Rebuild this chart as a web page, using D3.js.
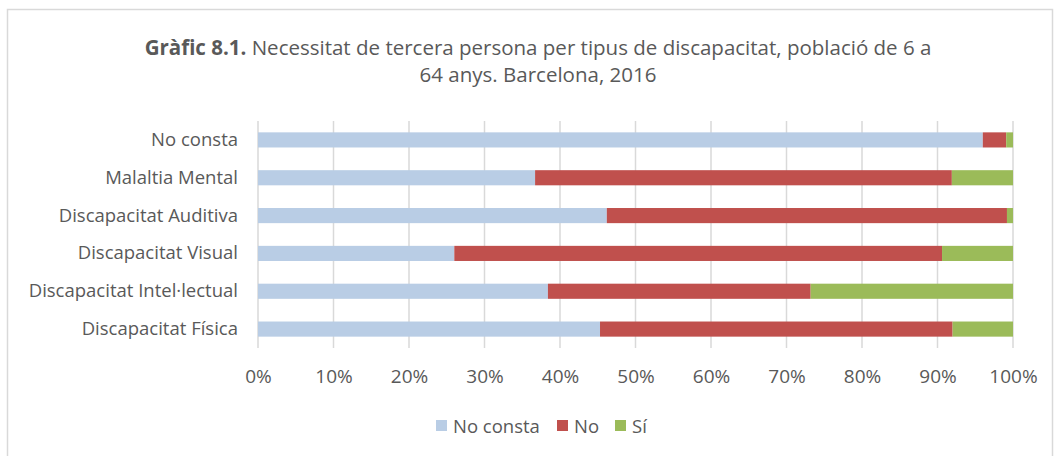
<!DOCTYPE html>
<html><head><meta charset="utf-8">
<script src="https://cdn.jsdelivr.net/npm/d3@7"></script>
<style>body{margin:0;background:#fff;}svg{display:block;font-family:"Open Sans",sans-serif;}</style>
</head><body><svg id="c" width="1059" height="456"></svg>
<script>
const categories = ["No consta","Malaltia Mental","Discapacitat Auditiva","Discapacitat Visual","Discapacitat Intel·lectual","Discapacitat Física"];
const seriesNames = ["No consta","No","Sí"];
const noConsta = [96.0, 36.7, 46.2, 26.0, 38.4, 45.3];
const no = [3.1, 55.2, 53.0, 64.6, 34.8, 46.7];
const si = [0.9, 8.1, 0.8, 9.4, 26.8, 8.0];
const colors = ["#b9cde5","#c0504d","#9bbb59"];
const tickValues = [0,10,20,30,40,50,60,70,80,90,100];

const svg = d3.select("#c");
svg.append("rect").attr("x",7.5).attr("y",9.5).attr("width",1045).attr("height",460)
  .attr("fill","#fff").attr("stroke","#d9d9d9").attr("stroke-width",1.5);

const title = svg.append("text").attr("text-anchor","middle").attr("fill","#595959").attr("font-size",20.5);
title.append("tspan").attr("x",538).attr("y",55).attr("font-weight","bold").text("Gràfic 8.1.");
title.append("tspan").text(" Necessitat de tercera persona per tipus de discapacitat, població de 6 a");
title.append("tspan").attr("x",538).attr("y",82).text("64 anys. Barcelona, 2016");

const x = d3.scaleLinear().domain([0,100]).range([258,1013]);
const y = d3.scaleBand().domain(categories).range([121,348]).paddingInner(0.6).paddingOuter(0.3);

svg.append("g").selectAll("line").data(tickValues).join("line")
  .attr("x1",d=>x(d)).attr("x2",d=>x(d)).attr("y1",121).attr("y2",348)
  .attr("stroke","#d9d9d9").attr("stroke-width",1.5);

const data = categories.map((c,i)=>({cat:c,"No consta":noConsta[i],"No":no[i],"Sí":si[i]}));
const stacked = d3.stack().keys(seriesNames)(data);
svg.append("g").selectAll("g").data(stacked).join("g").attr("fill",(d,i)=>colors[i])
  .selectAll("rect").data(d=>d).join("rect")
  .attr("x",d=>x(d[0])).attr("width",d=>x(Math.min(d[1],100))-x(d[0]))
  .attr("y",d=>y(d.data.cat)).attr("height",y.bandwidth());

const yAxis = d3.axisLeft(y).tickSize(0).tickPadding(20);
const ga = svg.append("g").attr("transform","translate(258,0)").call(yAxis);
ga.select(".domain").remove();
ga.selectAll("text").attr("fill","#595959").attr("font-size",18.5).attr("font-family","Open Sans, sans-serif");

const xAxis = d3.axisBottom(x).tickValues(tickValues).tickFormat(d=>d+"%").tickSize(0).tickPadding(0);
const gx = svg.append("g").attr("transform","translate(0,348)").call(xAxis);
gx.select(".domain").remove();
gx.selectAll("text").attr("fill","#595959").attr("font-size",19).attr("font-family","Open Sans, sans-serif").attr("y",35).attr("dy",0);

const legendX = [436, 557, 615];
const lg = svg.append("g").selectAll("g").data(seriesNames).join("g")
  .attr("transform",(d,i)=>`translate(${legendX[i]},420)`);
lg.append("rect").attr("width",11).attr("height",11).attr("fill",(d,i)=>colors[i]);
lg.append("text").attr("x",17).attr("y",12.5).attr("fill","#595959").attr("font-size",18.5).text(d=>d);
</script></body></html>
